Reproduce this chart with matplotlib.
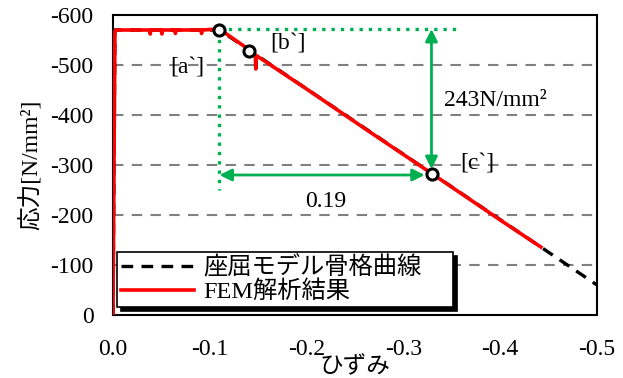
import matplotlib
matplotlib.use("Agg")
import matplotlib.pyplot as plt

plt.rcParams['font.family'] = ['Liberation Serif', 'Noto Sans CJK JP']
plt.rcParams['axes.unicode_minus'] = False

# Skeleton curve (座屈モデル骨格曲線)
skel_strain = [0.0, -0.002, -0.11, -0.5]
skel_stress = [0.0, -570, -570, -60]

# FEM result
fem_strain = [0.0, -0.002, -0.004, -0.038, -0.0385, -0.039, -0.050, -0.0505, -0.051,
              -0.064, -0.0645, -0.065, -0.091, -0.0915, -0.092, -0.110, -0.141,
              -0.147, -0.1475, -0.148, -0.20, -0.26, -0.30, -0.33, -0.40, -0.442]
fem_stress = [0.0, -568, -570, -570, -562, -570, -570, -562, -570,
              -570, -563, -570, -570, -563, -570, -572, -530,
              -520, -492, -519, -452, -373, -321, -282, -190, -136]

# Marked points
pt_strain = [-0.11, -0.141, -0.33]
pt_stress = [-570, -528, -282]
pt_labels = ["[a`]", "[b`]", "[c`]"]
pt_label_pos = [(-0.077, -494), (-0.181, -542), (-0.376, -302)]

xticks = [0.0, -0.1, -0.2, -0.3, -0.4, -0.5]
xticklabels = ["0.0", "-0.1", "-0.2", "-0.3", "-0.4", "-0.5"]
yticks = [0, -100, -200, -300, -400, -500, -600]
yticklabels = ["0", "-100", "-200", "-300", "-400", "-500", "-600"]

FS = 17

fig = plt.figure(figsize=(6.23, 3.78), dpi=100)
ax = fig.add_axes([113/623, 1-315/378, (597-113)/623, (315-15)/378])
ax.set_xlim(0, -0.5)
ax.set_ylim(0, -600)

for y in yticks[1:-1]:
    ax.axhline(y, color='#808080', lw=1.5, ls=(0, (5, 4)), zorder=1)

green = '#00B050'
# green dotted guide lines
ax.plot([-0.11, -0.11], [-570, -250], color=green, lw=2.4, ls=(0, (1, 1.8)), zorder=2)
ax.plot([-0.11, -0.358], [-572, -572], color=green, lw=2.4, ls=(0, (1, 1.8)), zorder=2)
# arrows
ax.annotate('', xy=(-0.329, -292), xytext=(-0.329, -572),
            arrowprops=dict(arrowstyle='<|-|>', color=green, lw=2, mutation_scale=18, shrinkA=0, shrinkB=0), zorder=3)
ax.annotate('', xy=(-0.11, -280), xytext=(-0.322, -280),
            arrowprops=dict(arrowstyle='<|-|>', color=green, lw=2, mutation_scale=18, shrinkA=0, shrinkB=0), zorder=3)
ax.text(-0.22, -228, "0.19", fontsize=FS, ha='center', va='center')
ax.text(-0.395, -430, "243N/mm²", fontsize=FS, ha='center', va='center')

l1, = ax.plot(skel_strain, skel_stress, color='black', lw=2.4, ls=(0, (3.5, 2.5)), zorder=4,
              label='座屈モデル骨格曲線')
l2, = ax.plot(fem_strain, fem_stress, color='#FF0000', lw=2.6, zorder=5, label='FEM解析結果')

ax.plot(pt_strain, pt_stress, 'o', ms=8, mfc='white', mec='black', mew=2.2, zorder=6)
for lab, (x, y) in zip(pt_labels, pt_label_pos):
    ax.text(x, y, lab, fontsize=FS, ha='center', va='center')

ax.set_xticks(xticks)
ax.set_xticklabels(xticklabels)
ax.set_yticks(yticks)
ax.set_yticklabels(yticklabels)
ax.tick_params(axis='x', length=0, labelsize=FS, pad=17)
ax.tick_params(axis='y', length=0, labelsize=FS, pad=14)
for s in ax.spines.values():
    s.set_linewidth(1.5)
fig.text(355/623, 1 - 367/378, "ひずみ", fontsize=FS, ha='center', va='center')
fig.text(31/623, 1 - 165/378, "応力[N/mm²]", fontsize=FS, ha='center', va='center', rotation=90)

leg = ax.legend(handles=[l1, l2], loc='lower left',
                bbox_to_anchor=(4/484, 8/300, 336/484, 58/300), mode='expand',
                fontsize=17.5, frameon=True, fancybox=False, edgecolor='black',
                framealpha=1, handlelength=3.0, handletextpad=0.4, borderpad=0.15,
                labelspacing=0.05, shadow={'color': 'black', 'alpha': 1, 'ox': 3, 'oy': -3},
                borderaxespad=0.0)
leg.get_frame().set_linewidth(1.2)

fig.savefig("out.png", dpi=100)
